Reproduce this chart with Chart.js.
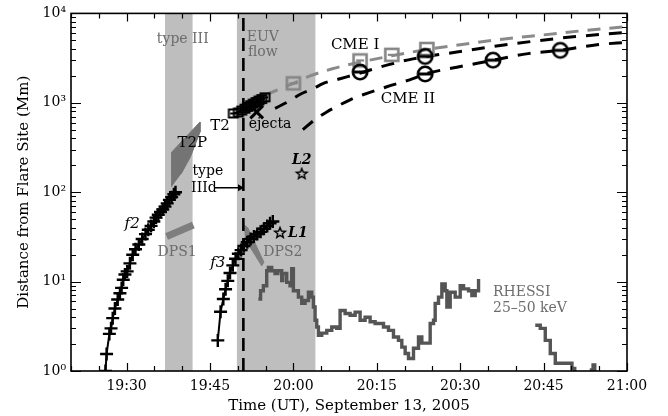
<!DOCTYPE html>
<html>
<head>
<meta charset="utf-8">
<script src="https://cdn.jsdelivr.net/npm/chart.js@4/dist/chart.umd.min.js"></script>
<style>
  html, body { margin: 0; padding: 0; background: #fff; }
  #wrap { width: 668px; height: 416px; }
</style>
</head>
<body>
<div id="wrap"><canvas id="chart" width="668" height="416"></canvas></div>
<script>
// Time is given in minutes after 19:00 UT; distances in Mm.
const xTickMinutes = [30, 45, 60, 75, 90, 105, 120];
const yTickValues = [1, 10, 100, 1000, 10000];

const typeIIIBand = [36.9, 41.9];
const euvFlowBand = [49.8, 64.0];
const typeIIIdTime = 51.0;

// f2 and f3 tracks
const f2Time = [26.2, 26.4, 26.9, 27.2, 27.5, 27.9, 28.4, 28.8, 29.1, 29.4, 29.7, 30.1, 30.6, 31.1, 31.6, 32.2, 32.8, 33.4, 33.9, 34.4, 34.9, 35.3, 35.7, 36.1, 36.5, 36.9, 37.3, 37.7, 38.1, 38.5, 38.8];
const f2Dist = [1.0, 1.55, 2.6, 3.0, 3.9, 5.0, 6.3, 7.4, 8.5, 10.5, 12.0, 13.0, 16, 20, 23, 26, 30, 34, 38, 42, 47, 52, 56, 60, 64, 69, 75, 82, 88, 95, 100];
const f3Time = [46.4, 46.9, 47.4, 47.8, 48.2, 48.6, 49.1, 49.6, 50.1, 50.6, 51.1, 51.7, 52.3, 52.9, 53.5, 54.1, 54.7, 55.3, 55.8, 56.3];
const f3Dist = [2.2, 4.6, 6.4, 8.2, 10.2, 12.5, 15.2, 18.0, 20.5, 22.5, 25, 27.5, 30, 32, 34, 36, 39, 42, 45, 47];

// drifting pulsating structures and type II precursor outlines
const t2pTime = [38.1, 38.1, 43.2, 43.2, 41.5, 39.8];
const t2pDist = [115, 280, 610, 470, 250, 160];
const dps1Time = [37.2, 42.0];
const dps1Dist = [32, 43];
const dps2Time = [51.1, 51.8, 54.7, 54.3, 51.3];
const dps2Dist = [43, 40, 16.5, 15.0, 30];

// type II (T2) and ejecta
const t2Time = [49.2, 50.1, 50.7, 51.3, 51.8, 52.3, 52.8, 53.3, 53.8, 54.3, 54.9];
const t2Dist = [760, 780, 820, 860, 900, 940, 980, 1020, 1060, 1100, 1150];
const ejectaTime = [53.4];
const ejectaDist = [790];

// loop sources
const l1Time = [57.6];
const l1Dist = [35];
const l2Time = [61.5];
const l2Dist = [160];

// CME height measurements
const cme1Time = [60.0, 72.0, 77.7, 84.0];
const cme1Dist = [1650, 2980, 3440, 4000];
const cme2Time = [72.0, 83.7, 83.7, 95.9, 108.0];
const cme2Dist = [2210, 3300, 2100, 3000, 3860];

// fitted trajectories
const fitGreyTime = [55.0, 60.0, 63.0, 67.0, 72.0, 77.7, 84.0, 90.0, 97.0, 105.0, 112.0, 120.0];
const fitGreyDist = [1230, 1650, 2000, 2400, 2850, 3350, 3950, 4450, 5100, 5750, 6400, 7100];
const fitUpperTime = [56.7, 59.0, 61.5, 63.6, 65.3, 68.4, 72.0, 76.8, 81.5, 89.4, 97.2, 109.4, 120.0];
const fitUpperDist = [865, 1025, 1270, 1440, 1640, 1860, 2150, 2640, 3100, 3700, 4370, 5400, 6150];
const fitLowerTime = [61.7, 63.9, 66.0, 67.8, 70.2, 72.5, 76.8, 81.5, 83.7, 89.4, 94.8, 102.2, 108.0, 114.6, 120.0];
const fitLowerDist = [500, 650, 790, 910, 1080, 1230, 1510, 1860, 2100, 2500, 2900, 3550, 3870, 4460, 4750];

// RHESSI 25-50 keV count rate, three observing intervals
const rhessiATime = [53.7, 54.1, 54.6, 55.2, 55.5, 56.1, 56.7, 57.2, 57.9, 58.1, 58.8, 59.4, 59.7, 60.0, 60.9, 61.5, 62.1, 62.7, 63.3, 63.6, 63.9, 64.2, 64.5, 65.1, 66.0, 66.9, 67.8, 68.4, 69.3, 70.2, 71.1, 72.0, 72.9, 73.8, 74.7, 75.6, 76.2, 77.1, 78.0, 78.9, 79.5, 80.1, 80.7, 81.6, 82.5, 83.1, 84.0, 84.6, 85.2, 85.5, 86.1, 86.7, 87.3, 87.6, 88.2, 89.1, 90.0, 90.6, 91.5, 92.1, 92.7, 93.3];
const rhessiAVal = [6.4, 7.9, 9.0, 13.2, 14.4, 13.2, 12.3, 13.2, 10.3, 12.3, 9.8, 9.0, 13.9, 7.9, 6.7, 5.7, 6.15, 7.6, 6.7, 5.2, 3.7, 3.1, 2.5, 2.65, 2.85, 3.1, 3.0, 4.75, 4.4, 4.2, 4.55, 3.7, 4.0, 3.55, 3.4, 3.4, 3.1, 2.85, 2.4, 2.2, 1.85, 1.57, 1.38, 1.8, 2.4, 2.05, 2.05, 3.4, 3.7, 5.7, 6.7, 9.4, 7.9, 5.2, 7.6, 6.7, 9.0, 8.3, 7.9, 7.0, 7.9, 10.7];
const rhessiBTime = [103.5, 104.4, 105.3, 106.2, 107.1, 107.9, 109.2, 110.1, 110.6];
const rhessiBVal = [3.25, 3.0, 2.2, 1.57, 1.22, 1.22, 1.22, 1.07, 1.0];
const rhessiCTime = [113.3, 113.9, 114.2];
const rhessiCVal = [1.03, 1.17, 1.0];

const FONT = "'DejaVu Serif', 'Liberation Serif', serif";
const GREY_TEXT = '#6c6c6c';
const BAND = '#bebebe';

const xy = (ts, vs) => ts.map((t, i) => ({ x: t, y: vs[i] }));
const gap = (t) => ({ x: t, y: null });

// marker glyphs
function glyph(size, draw) {
  const c = document.createElement('canvas');
  c.width = c.height = size;
  draw(c.getContext('2d'), size / 2);
  return c;
}
const circleBar = glyph(22, (g, c) => {
  g.strokeStyle = '#000'; g.lineWidth = 2.6;
  g.beginPath(); g.arc(c, c, 7.2, 0, Math.PI * 2); g.stroke();
  g.lineWidth = 3; g.beginPath(); g.moveTo(c - 7, c); g.lineTo(c + 7, c); g.stroke();
});
const squareBarGrey = glyph(20, (g, c) => {
  g.strokeStyle = '#858585'; g.lineWidth = 2.6;
  g.strokeRect(c - 6.5, c - 6, 13, 12);
  g.lineWidth = 2.2; g.beginPath(); g.moveTo(c - 4, c); g.lineTo(c + 4, c); g.stroke();
});
const squareBarBlack = glyph(14, (g, c) => {
  g.strokeStyle = '#000'; g.lineWidth = 2;
  g.strokeRect(c - 4.5, c - 4, 9, 8);
  g.beginPath(); g.moveTo(c - 3, c); g.lineTo(c + 3, c); g.stroke();
});
const star5 = glyph(16, (g, c) => {
  g.strokeStyle = '#000'; g.lineWidth = 1.4;
  g.beginPath();
  for (let i = 0; i < 10; i++) {
    const r = i % 2 ? 2.4 : 5.6;
    const a = -Math.PI / 2 + i * Math.PI / 5;
    const px = c + r * Math.cos(a), py = c + r * Math.sin(a);
    i ? g.lineTo(px, py) : g.moveTo(px, py);
  }
  g.closePath(); g.stroke();
});

const SUP = { 0: '\u2070', 1: '\u00b9', 2: '\u00b2', 3: '\u00b3', 4: '\u2074' };
const timeLabel = (m) => (19 + Math.floor(m / 60)) + ':' + String(m % 60).padStart(2, '0');

// text annotations placed at (minutes, Mm)
const annotations = [
  { text: 'type III', at: [40.1, 5140], color: GREY_TEXT, size: 14 },
  { text: 'EUV', at: [54.5, 5400], color: GREY_TEXT, size: 14 },
  { text: 'flow', at: [54.5, 3650], color: GREY_TEXT, size: 14 },
  { text: 'CME I', at: [71.1, 4400], color: '#000', size: 15 },
  { text: 'CME II', at: [80.6, 1110], color: '#000', size: 15 },
  { text: 'T2', at: [46.8, 555], color: '#000', size: 15 },
  { text: 'ejecta', at: [55.8, 570], color: '#000', size: 14 },
  { text: 'T2P', at: [41.8, 350], color: '#000', size: 15 },
  { text: 'type', at: [44.6, 171], color: '#000', size: 14 },
  { text: 'IIId', at: [43.9, 111], color: '#000', size: 14 },
  { text: 'L2', at: [61.5, 225], color: '#000', size: 14, style: 'italic bold' },
  { text: 'f2', at: [31.0, 44], color: '#000', size: 15, style: 'italic' },
  { text: 'DPS1', at: [39.1, 21], color: GREY_TEXT, size: 14 },
  { text: 'f3', at: [46.4, 16.3], color: '#000', size: 15, style: 'italic' },
  { text: 'L1', at: [60.8, 35], color: '#000', size: 14, style: 'italic bold' },
  { text: 'DPS2', at: [58.1, 21], color: GREY_TEXT, size: 14 },
  { text: 'RHESSI', at: [95.9, 7.55], color: GREY_TEXT, size: 14, align: 'left' },
  { text: '25\u201350 keV', at: [95.9, 5.0], color: GREY_TEXT, size: 14, align: 'left' }
];

const labelsPlugin = {
  id: 'labels',
  afterDatasetsDraw(chart) {
    const { ctx, scales: { x, y } } = chart;
    ctx.save();
    ctx.textBaseline = 'middle';
    for (const a of annotations) {
      ctx.font = (a.style ? a.style + ' ' : '') + a.size + 'px ' + FONT;
      ctx.fillStyle = a.color;
      ctx.textAlign = a.align || 'center';
      ctx.fillText(a.text, x.getPixelForValue(a.at[0]), y.getPixelForValue(a.at[1]));
    }
    ctx.restore();
  }
};

// inward ticks on all four sides plus the frame
const framePlugin = {
  id: 'frame',
  afterDatasetsDraw(chart) {
    const { ctx, chartArea: a, scales: { x, y } } = chart;
    ctx.save();
    ctx.strokeStyle = '#000';
    ctx.lineWidth = 1.2;
    ctx.beginPath();
    for (let m = x.min; m <= x.max; m += 5) {
      const px = Math.round(x.getPixelForValue(m)) + 0.5;
      const len = m % 15 === 0 ? 8 : 5;
      ctx.moveTo(px, a.bottom); ctx.lineTo(px, a.bottom - len);
      ctx.moveTo(px, a.top); ctx.lineTo(px, a.top + len);
    }
    for (let e = 0; e < 4; e++) {
      for (let k = 1; k <= 10; k++) {
        const py = Math.round(y.getPixelForValue(k * Math.pow(10, e))) + 0.5;
        const len = (k === 1 || k === 10) ? 10 : 5;
        ctx.moveTo(a.left, py); ctx.lineTo(a.left + len, py);
        ctx.moveTo(a.right, py); ctx.lineTo(a.right - len, py);
      }
    }
    ctx.stroke();
    ctx.lineWidth = 1.6;
    ctx.strokeRect(a.left, a.top, a.right - a.left, a.bottom - a.top);
    ctx.restore();
  }
};

const base = { showLine: true, pointRadius: 0, borderWidth: 0, fill: false, tension: 0, spanGaps: false };

const datasets = [
  // shaded time intervals
  { ...base, label: 'type III', data: xy(typeIIIBand, [10000, 10000]), backgroundColor: BAND, fill: 'start', order: 20 },
  { ...base, label: 'EUV flow', data: xy(euvFlowBand, [10000, 10000]), backgroundColor: BAND, fill: 'start', order: 20 },
  // radio features
  { ...base, label: 'T2P', data: xy(t2pTime, t2pDist), backgroundColor: '#747474', borderColor: '#747474', borderWidth: 1, fill: 'shape', order: 15 },
  { ...base, label: 'DPS1', data: xy(dps1Time, dps1Dist), borderColor: '#7e7e7e', borderWidth: 7, order: 15 },
  { ...base, label: 'DPS2', data: xy(dps2Time, dps2Dist), backgroundColor: '#7e7e7e', borderColor: '#7e7e7e', borderWidth: 1, fill: 'shape', order: 15 },
  // hard X-rays
  { ...base, label: 'RHESSI 25-50 keV',
    data: [...xy(rhessiATime, rhessiAVal), gap(98), ...xy(rhessiBTime, rhessiBVal), gap(112), ...xy(rhessiCTime, rhessiCVal)],
    borderColor: '#555', borderWidth: 3.4, stepped: true, order: 14 },
  // type IIId onset
  { ...base, label: 'type IIId', data: xy([typeIIIdTime, typeIIIdTime], [1, 10000]), borderColor: '#000', borderWidth: 2.6, borderDash: [13, 7], order: 12 },
  { ...base, label: 'type IIId arrow', data: xy([45.9, 50.4], [112, 112]), borderColor: '#000', borderWidth: 1.6,
    pointRadius: [0, 4], pointStyle: 'triangle', rotation: 90, pointBackgroundColor: '#000', pointBorderColor: '#000', pointBorderWidth: 0, order: 12 },
  // fitted trajectories
  { ...base, label: 'CME I fit', data: xy(fitGreyTime, fitGreyDist), borderColor: '#8a8a8a', borderWidth: 3, borderDash: [13, 9], cubicInterpolationMode: 'monotone', order: 10 },
  { ...base, label: 'fit upper', data: xy(fitUpperTime, fitUpperDist), borderColor: '#000', borderWidth: 3, borderDash: [13, 10], cubicInterpolationMode: 'monotone', order: 10 },
  { ...base, label: 'CME II fit', data: xy(fitLowerTime, fitLowerDist), borderColor: '#000', borderWidth: 3, borderDash: [13, 10], cubicInterpolationMode: 'monotone', order: 10 },
  // fronts
  { ...base, label: 'f2', data: xy(f2Time, f2Dist), borderColor: '#000', borderWidth: 2, pointStyle: 'cross', pointRadius: 6.5, pointBorderWidth: 2.4, pointBorderColor: '#000', order: 8 },
  { ...base, label: 'f3', data: xy(f3Time, f3Dist), borderColor: '#000', borderWidth: 2, pointStyle: 'cross', pointRadius: 6.5, pointBorderWidth: 2.4, pointBorderColor: '#000', order: 8 },
  { ...base, label: 'T2', data: xy(t2Time, t2Dist), borderColor: '#000', borderWidth: 2, pointStyle: squareBarBlack, pointRadius: 5, order: 6 },
  { ...base, showLine: false, label: 'ejecta', data: xy(ejectaTime, ejectaDist), pointStyle: 'crossRot', pointRadius: 9, pointBorderWidth: 3, pointBorderColor: '#000', order: 5 },
  { ...base, showLine: false, label: 'CME I', data: xy(cme1Time, cme1Dist), pointStyle: squareBarGrey, pointRadius: 8, order: 4 },
  { ...base, showLine: false, label: 'CME II', data: xy(cme2Time, cme2Dist), pointStyle: circleBar, pointRadius: 8, order: 3 },
  { ...base, showLine: false, label: 'L1', data: xy(l1Time, l1Dist), pointStyle: star5, pointRadius: 6, order: 2 },
  { ...base, showLine: false, label: 'L2', data: xy(l2Time, l2Dist), pointStyle: star5, pointRadius: 6, order: 2 }
];

new Chart(document.getElementById('chart'), {
  type: 'scatter',
  data: { datasets },
  options: {
    responsive: false,
    animation: false,
    devicePixelRatio: 1,
    layout: { padding: { top: 11, right: 41, left: 0, bottom: 0 } },
    plugins: { legend: { display: false }, tooltip: { enabled: false } },
    scales: {
      x: {
        type: 'linear', min: 20, max: 120,
        afterBuildTicks: (s) => { s.ticks = xTickMinutes.map((v) => ({ value: v })); },
        afterFit: (s) => { s.height = 45; },
        grid: { display: false, drawTicks: false },
        border: { display: false },
        ticks: { callback: (v) => timeLabel(v), font: { family: FONT, size: 14 }, color: '#000', padding: 7, maxRotation: 0, autoSkip: false },
        title: { display: true, text: 'Time (UT), September 13, 2005', font: { family: FONT, size: 15 }, color: '#000', padding: { top: 0, bottom: 1 } }
      },
      y: {
        type: 'logarithmic', min: 1, max: 10000,
        afterBuildTicks: (s) => { s.ticks = yTickValues.map((v) => ({ value: v })); },
        afterFit: (s) => { s.width = 71; },
        grid: { display: false, drawTicks: false },
        border: { display: false },
        ticks: { callback: (v) => '10' + SUP[Math.round(Math.log10(v))], font: { family: FONT, size: 14 }, color: '#000', padding: 5, autoSkip: false },
        title: { display: true, text: 'Distance from Flare Site (Mm)', font: { family: FONT, size: 15 }, color: '#000', padding: { top: 15, bottom: 0 } }
      }
    }
  },
  plugins: [framePlugin, labelsPlugin]
});
</script>
</body>
</html>
